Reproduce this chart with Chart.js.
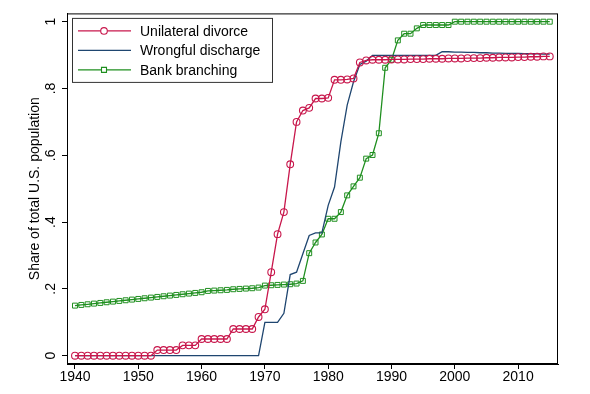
<!DOCTYPE html>
<html lang="en">
<head>
  <meta charset="UTF-8">
  <title>Share of total U.S. population</title>
  <script src="https://cdn.jsdelivr.net/npm/chart.js"></script>
  <style>
    html, body { margin: 0; padding: 0; background: #fff; }
    #chartBox { width: 590px; height: 394px; }
  </style>
</head>
<body>
  <div id="chartBox"><canvas id="lawChart"></canvas></div>
  <script>
    // years on the x axis
    const years = [1940,1941,1942,1943,1944,1945,1946,1947,1948,1949,
      1950,1951,1952,1953,1954,1955,1956,1957,1958,1959,
      1960,1961,1962,1963,1964,1965,1966,1967,1968,1969,
      1970,1971,1972,1973,1974,1975,1976,1977,1978,1979,
      1980,1981,1982,1983,1984,1985,1986,1987,1988,1989,
      1990,1991,1992,1993,1994,1995,1996,1997,1998,1999,
      2000,2001,2002,2003,2004,2005,2006,2007,2008,2009,
      2010,2011,2012,2013,2014,2015];

    const unilateralDivorce = [0,0,0,0,0,0,0,0,0,0,
      0,0,0,0.017,0.017,0.017,0.017,0.031,0.031,0.031,
      0.05,0.05,0.05,0.05,0.05,0.08,0.08,0.08,0.08,0.116,
      0.139,0.25,0.364,0.43,0.573,0.70,0.734,0.742,0.77,0.77,
      0.772,0.826,0.826,0.827,0.83,0.878,0.884,0.886,0.886,0.886,
      0.887,0.887,0.887,0.888,0.888,0.888,0.889,0.889,0.889,0.890,
      0.890,0.890,0.891,0.891,0.891,0.892,0.892,0.893,0.893,0.893,
      0.894,0.894,0.895,0.895,0.896,0.896];

    const wrongfulDischarge = [0,0,0,0,0,0,0,0,0,0,
      0,0,0,0,0,0,0,0,0,0,
      0,0,0,0,0,0,0,0,0,0,
      0.1,0.1,0.1,0.127,0.243,0.25,0.305,0.36,0.368,0.368,
      0.45,0.505,0.64,0.75,0.82,0.872,0.882,0.899,0.899,0.899,
      0.899,0.899,0.899,0.899,0.899,0.899,0.899,0.899,0.91,0.91,
      0.909,0.909,0.908,0.908,0.907,0.907,0.906,0.906,0.905,0.905,
      0.905,0.904,0.904,0.904,0.903,0.903];

    const bankBranching = [0.150,0.152,0.154,0.156,0.158,0.160,0.162,0.164,0.166,0.168,
      0.170,0.172,0.174,0.176,0.178,0.180,0.182,0.184,0.186,0.188,
      0.190,0.194,0.195,0.196,0.197,0.199,0.200,0.201,0.202,0.204,
      0.210,0.211,0.212,0.213,0.214,0.216,0.224,0.307,0.339,0.363,
      0.41,0.41,0.43,0.48,0.507,0.533,0.59,0.601,0.666,0.862,
      0.886,0.944,0.964,0.964,0.98,0.99,0.99,0.99,0.99,0.99,
      1,1,1,1,1,1,1,1,1,1,
      1,1,1,1,1,1];

    const seriesNames = ['Unilateral divorce', 'Wrongful discharge', 'Bank branching'];
    const yTickValues = [0, 0.2, 0.4, 0.6, 0.8, 1];
    const yTickText = ['0', '.2', '.4', '.6', '.8', '1'];

    const RED = '#c8174c', NAVY = '#1f4670', GREEN = '#1f8f1f';
    const FONT = 'Liberation Sans, Arial, Helvetica, sans-serif';

    function toPoints(vals) {
      return years.map((yr, i) => ({x: yr, y: vals[i]}));
    }

    // box around the plot region
    const frame = {
      id: 'frame',
      afterDatasetsDraw(chart) {
        const a = chart.chartArea, ctx = chart.ctx;
        ctx.save();
        ctx.strokeStyle = '#000';
        ctx.lineWidth = 1;
        ctx.strokeRect(a.left + 0.5, a.top + 0.5, a.right - a.left - 1, a.bottom - a.top - 1);
        ctx.restore();
      }
    };

    // Stata style legend inside the plot
    const boxLegend = {
      id: 'boxLegend',
      afterDraw(chart) {
        const a = chart.chartArea, ctx = chart.ctx;
        const bx = a.left + 5, by = a.top + 4.5;
        ctx.save();
        ctx.fillStyle = '#fff';
        ctx.fillRect(bx, by, 200, 64);
        ctx.strokeStyle = '#333';
        ctx.lineWidth = 1;
        ctx.strokeRect(bx + 0.5, by + 0.5, 200, 64);
        chart.data.datasets.forEach((ds, i) => {
          const y = by + 13 + i * 19.5;
          ctx.strokeStyle = ds.borderColor;
          ctx.lineWidth = 1.3;
          ctx.beginPath();
          ctx.moveTo(bx + 6, y);
          ctx.lineTo(bx + 59, y);
          ctx.stroke();
          if (ds.pointRadius > 0) {
            ctx.lineWidth = 1.1;
            ctx.fillStyle = '#fff';
            ctx.beginPath();
            if (ds.pointStyle === 'rect') {
              ctx.rect(bx + 32 - 2.5, y - 2.5, 5, 5);
            } else {
              ctx.arc(bx + 32, y, 3.3, 0, Math.PI * 2);
            }
            ctx.fill();
            ctx.stroke();
          }
          ctx.fillStyle = '#000';
          ctx.font = '14px ' + FONT;
          ctx.textBaseline = 'middle';
          ctx.textAlign = 'left';
          ctx.fillText(ds.label, bx + 68, y + 1);
        });
        ctx.restore();
      }
    };

    const ctx = document.getElementById('lawChart').getContext('2d');
    new Chart(ctx, {
      type: 'line',
      data: {
        datasets: [
          {
            label: seriesNames[0],
            data: toPoints(unilateralDivorce),
            borderColor: RED,
            borderWidth: 1.3,
            pointStyle: 'circle',
            pointRadius: 3.4,
            pointBorderWidth: 1.1,
            pointBorderColor: RED,
            pointBackgroundColor: 'rgba(0,0,0,0)',
            tension: 0
          },
          {
            label: seriesNames[1],
            data: toPoints(wrongfulDischarge),
            borderColor: NAVY,
            borderWidth: 1.3,
            pointRadius: 0,
            tension: 0
          },
          {
            label: seriesNames[2],
            data: toPoints(bankBranching),
            borderColor: GREEN,
            borderWidth: 1.3,
            pointStyle: 'rect',
            pointRadius: 3.5,
            pointBorderWidth: 1,
            pointBorderColor: GREEN,
            pointBackgroundColor: 'rgba(0,0,0,0)',
            tension: 0
          }
        ]
      },
      options: {
        responsive: true,
        maintainAspectRatio: false,
        animation: false,
        layout: { padding: { top: 13, right: 32, left: 0, bottom: 0 } },
        plugins: {
          legend: { display: false },
          tooltip: { enabled: false }
        },
        scales: {
          x: {
            type: 'linear',
            min: 1938.74,
            max: 2016.3,
            afterFit(scale) { scale.height = 30; },
            border: { display: true, color: '#000', width: 1 },
            grid: { display: true, drawOnChartArea: false, drawTicks: true, tickLength: 5, color: '#000' },
            ticks: {
              stepSize: 10,
              includeBounds: false,
              color: '#000',
              padding: 0,
              maxRotation: 0,
              font: { family: FONT, size: 14 },
              callback: v => String(v)
            }
          },
          y: {
            min: -0.0248,
            max: 1.0248,
            afterFit(scale) { scale.width = 67; },
            afterBuildTicks(scale) {
              scale.ticks = yTickValues.map(v => ({value: v}));
            },
            border: { display: true, color: '#000', width: 1 },
            grid: { display: true, drawOnChartArea: false, drawTicks: true, tickLength: 5, color: '#000' },
            ticks: {
              color: '#000',
              padding: 5,
              minRotation: 90,
              maxRotation: 90,
              crossAlign: 'center',
              font: { family: FONT, size: 14 },
              callback: function (v) {
                const i = yTickValues.findIndex(t => Math.abs(t - v) < 1e-6);
                return i >= 0 ? yTickText[i] : '';
              }
            },
            title: {
              display: true,
              text: 'Share of total U.S. population',
              color: '#000',
              font: { family: FONT, size: 14 },
              padding: { top: 27, bottom: 0 }
            }
          }
        }
      },
      plugins: [frame, boxLegend]
    });
  </script>
</body>
</html>
